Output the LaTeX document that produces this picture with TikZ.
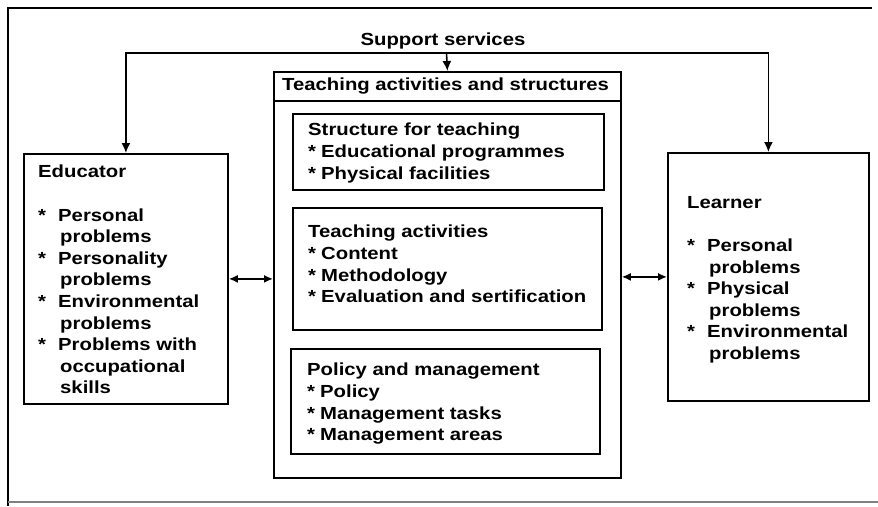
\documentclass[tikz,border=0pt]{standalone}
\usepackage{fontspec}
\setmainfont{Liberation Sans}[FakeStretch=1.16]
\usetikzlibrary{arrows.meta}
\newcommand{\dgcb}{\makebox[13pt][l]{*}}
\newcommand{\dgeb}{\makebox[20pt][l]{*}}
\newcommand{\dgei}{\hspace*{22pt}}
\begin{document}
\begin{tikzpicture}[x=1pt,y=-1pt,
  box/.style={draw, line width=1.8pt, inner sep=0pt, anchor=north west},
  txt/.style={inner sep=0pt, anchor=north west, align=left, font=\fontsize{17.5}{21.6}\selectfont\bfseries},
  arr/.style={line width=1.6pt, -{Latex[length=10pt,width=9pt]}},
  darr/.style={line width=1.6pt, {Latex[length=9pt,width=8pt]}-{Latex[length=9pt,width=8pt]}},
  frame/.style={line width=2pt}]
\useasboundingbox (0,0) rectangle (878,506);
% outer frame
\coordinate (ftr) at (872,8);
\coordinate (ftl) at (8,8);
\coordinate (fbl) at (8,506);
\coordinate (fb1) at (8,502);
\coordinate (fb2) at (878,502);
\draw[frame] (ftr) -- (ftl) -- (fbl);
\draw[gray, line width=1.4pt] (fb1) -- (fb2);
% boxes
\node[box, minimum width=204pt, minimum height=250pt] (edu) at (23,153) {};
\node[box, minimum width=201pt, minimum height=248pt] (lea) at (667,152) {};
\node[box, minimum width=347pt, minimum height=406pt] (tb) at (273,71) {};
\node[box, minimum width=347pt, minimum height=29pt] (hdr) at (273,71) {};
\node[box, minimum width=311pt, minimum height=76pt] (s1) at (292,113) {};
\node[box, minimum width=309pt, minimum height=122pt] (s2) at (292,207) {};
\node[box, minimum width=309pt, minimum height=105pt] (s3) at (290,348) {};
% texts
\node[txt, anchor=center] (sst) at (443,41) {Support services};
\node[txt, anchor=west] (hdrt) at (282,86) {Teaching activities and structures};
\node[txt] (s1t) at (308,123) {Structure for teaching\\\dgcb Educational programmes\\\dgcb Physical facilities};
\node[txt] (s2t) at (308,225) {Teaching activities\\\dgcb Content\\\dgcb Methodology\\\dgcb Evaluation and sertification};
\node[txt] (s3t) at (307,363) {Policy and management\\\dgcb Policy\\\dgcb Management tasks\\\dgcb Management areas};
\node[txt] (edut) at (38,165) {Educator\\[21.6pt]\dgeb Personal\\\dgei problems\\\dgeb Personality\\\dgei problems\\\dgeb Environmental\\\dgei problems\\\dgeb Problems with\\\dgei occupational\\\dgei skills};
\node[txt] (leat) at (687,196) {Learner\\[21.6pt]\dgeb Personal\\\dgei problems\\\dgeb Physical\\\dgei problems\\\dgeb Environmental\\\dgei problems};
% connectors
\coordinate (jc) at (446.5,53);
\draw[arr] (jc) -| (edu.north);
\draw[arr] (jc) -| (lea.north);
\draw[arr] (jc) -- (hdr.north);
\draw[darr] (edu.east) -- (edu.east -| tb.west);
\draw[darr] (lea.west -| tb.east) -- (lea.west);
\end{tikzpicture}
\end{document}
